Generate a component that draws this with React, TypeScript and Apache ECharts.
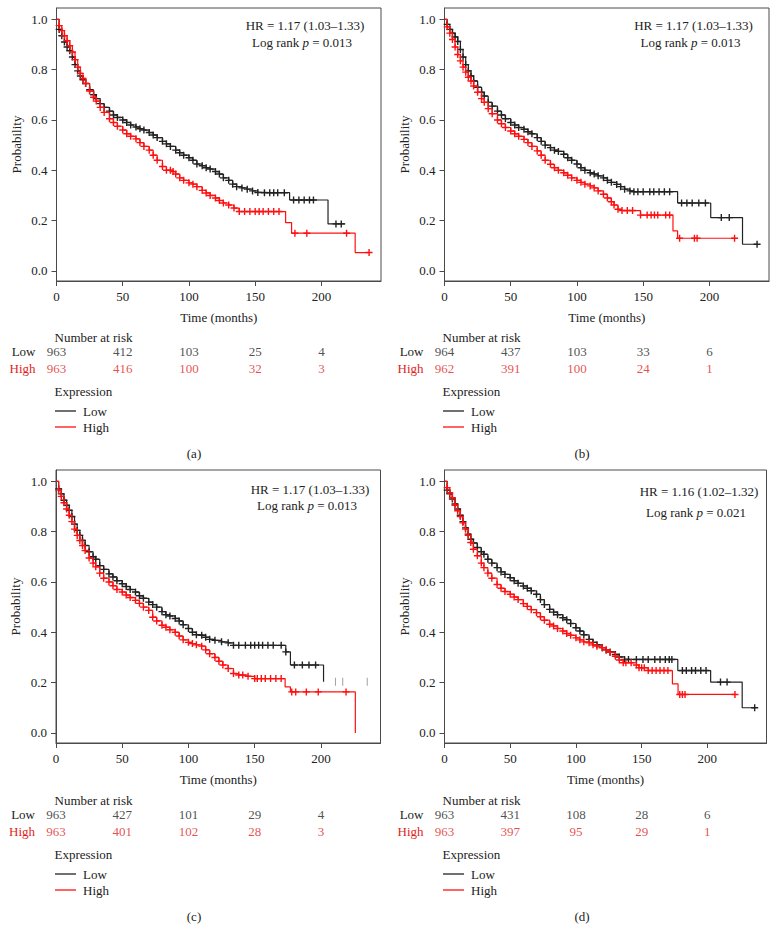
import React, { useEffect, useRef } from 'react';
import * as echarts from 'echarts';

type Pt = [number, number, number]; // [time (months), survival probability, censor mark 0/1]

const xTicks = [0, 50, 100, 150, 200];
const yTicks = [0, 0.2, 0.4, 0.6, 0.8, 1.0];
const riskTimes = [0, 50, 100, 150, 200];
const groups = ['Low', 'High'];
const panelLabels = ['(a)', '(b)', '(c)', '(d)'];
const hrTexts = ['HR = 1.17 (1.03–1.33)', 'HR = 1.17 (1.03–1.33)', 'HR = 1.17 (1.03–1.33)', 'HR = 1.16 (1.02–1.32)'];
const pValues = ['0.013', '0.013', '0.013', '0.021'];

const riskLowA = [963, 412, 103, 25, 4];
const riskHighA = [963, 416, 100, 32, 3];
const riskLowB = [964, 437, 103, 33, 6];
const riskHighB = [962, 391, 100, 24, 1];
const riskLowC = [963, 427, 101, 29, 4];
const riskHighC = [963, 401, 102, 28, 3];
const riskLowD = [963, 431, 108, 28, 6];
const riskHighD = [963, 397, 95, 29, 1];

const aLow: Pt[] = [[0,1,0],[2,0.96,1],[4,0.935,1],[6,0.91,1],[8,0.89,1],[10,0.875,1],[12,0.85,1],[14,0.82,1],[16,0.795,1],[18,0.775,1],[20,0.76,1],[22,0.745,1],[25,0.72,1],[28,0.70,1],[30,0.685,1],[33,0.665,1],[36,0.65,1],[40,0.635,1],[43,0.62,1],[46,0.61,1],[50,0.60,1],[53,0.59,1],[56,0.58,1],[60,0.572,1],[63,0.565,1],[66,0.56,1],[70,0.55,1],[73,0.54,1],[76,0.53,1],[80,0.515,1],[83,0.505,1],[86,0.495,1],[90,0.48,1],[93,0.47,1],[96,0.46,1],[100,0.45,1],[103,0.44,1],[106,0.425,1],[110,0.418,1],[113,0.41,1],[116,0.405,1],[120,0.395,1],[123,0.385,1],[126,0.37,1],[130,0.36,1],[133,0.345,1],[136,0.335,1],[140,0.33,1],[144,0.325,1],[148,0.318,1],[152,0.312,1],[157,0.311,1],[161,0.311,1],[164,0.311,1],[167,0.311,1],[172,0.311,1],[176,0.282,0],[179,0.282,1],[183,0.282,1],[187,0.282,1],[191,0.282,1],[194,0.282,1],[205,0.187,0],[211,0.187,1],[215,0.187,1],[218,0.187,0]];
const aHigh: Pt[] = [[0,1,0],[2,0.975,1],[4,0.955,1],[6,0.935,1],[8,0.915,1],[10,0.895,1],[12,0.87,1],[14,0.84,1],[16,0.81,1],[18,0.785,1],[20,0.765,1],[22,0.745,1],[25,0.715,1],[28,0.69,1],[30,0.675,1],[33,0.65,1],[36,0.63,1],[40,0.605,1],[43,0.59,1],[46,0.575,1],[50,0.56,1],[53,0.545,1],[56,0.535,1],[60,0.525,1],[63,0.51,1],[66,0.495,1],[70,0.48,1],[73,0.46,1],[76,0.44,1],[80,0.415,1],[83,0.40,1],[86,0.40,1],[88,0.395,1],[90,0.385,1],[93,0.37,1],[96,0.36,1],[100,0.35,1],[103,0.345,1],[106,0.335,1],[110,0.32,1],[113,0.31,1],[116,0.30,1],[120,0.29,1],[123,0.28,1],[126,0.27,1],[130,0.262,1],[134,0.25,1],[138,0.236,1],[142,0.236,1],[146,0.236,1],[150,0.236,1],[153,0.236,1],[156,0.236,1],[160,0.236,1],[164,0.236,1],[168,0.236,1],[173,0.192,0],[177.5,0.15,0],[180,0.15,1],[189,0.15,1],[219,0.15,1],[225.5,0.073,0],[236,0.073,1]];

const bLow: Pt[] = [[0,1,0],[2,0.98,1],[4,0.96,1],[6,0.945,1],[8,0.93,1],[10,0.912,1],[12,0.88,1],[14,0.85,1],[16,0.82,1],[18,0.795,1],[20,0.775,1],[22,0.755,1],[25,0.73,1],[28,0.71,1],[30,0.695,1],[33,0.67,1],[36,0.655,1],[40,0.635,1],[43,0.62,1],[46,0.605,1],[50,0.59,1],[53,0.58,1],[56,0.57,1],[60,0.563,1],[63,0.553,1],[66,0.545,1],[70,0.53,1],[73,0.515,1],[76,0.50,1],[80,0.49,1],[83,0.48,1],[86,0.475,1],[90,0.464,1],[93,0.45,1],[96,0.44,1],[100,0.425,1],[103,0.41,1],[106,0.40,1],[110,0.39,1],[113,0.385,1],[116,0.378,1],[120,0.37,1],[123,0.36,1],[126,0.352,1],[130,0.344,1],[133,0.335,1],[136,0.325,1],[140,0.318,1],[143,0.315,1],[146,0.315,1],[150,0.315,1],[155,0.315,1],[158,0.315,1],[162,0.315,1],[166,0.315,1],[170,0.315,1],[176,0.27,0],[179,0.27,1],[183,0.27,1],[187,0.27,1],[192,0.27,1],[197,0.27,1],[201,0.212,0],[209,0.212,1],[215,0.212,1],[225,0.106,0],[236,0.106,1]];
const bHigh: Pt[] = [[0,1,0],[2,0.97,1],[4,0.945,1],[6,0.92,1],[8,0.89,1],[10,0.86,1],[12,0.835,1],[14,0.81,1],[16,0.79,1],[18,0.77,1],[20,0.755,1],[22,0.735,1],[25,0.71,1],[28,0.685,1],[30,0.67,1],[33,0.645,1],[36,0.625,1],[40,0.60,1],[43,0.585,1],[46,0.57,1],[50,0.556,1],[53,0.545,1],[56,0.535,1],[60,0.523,1],[63,0.51,1],[66,0.495,1],[70,0.477,1],[73,0.46,1],[76,0.44,1],[80,0.424,1],[83,0.41,1],[86,0.40,1],[90,0.39,1],[93,0.38,1],[96,0.37,1],[100,0.36,1],[103,0.352,1],[106,0.345,1],[110,0.338,1],[113,0.33,1],[116,0.318,1],[120,0.305,1],[123,0.29,1],[126,0.275,1],[128,0.262,1],[131,0.245,1],[134,0.24,1],[138,0.24,1],[142,0.24,1],[148,0.222,1],[153,0.222,1],[156,0.222,1],[158.5,0.222,1],[161,0.222,1],[167,0.222,1],[170,0.222,1],[172.5,0.159,0],[176,0.13,0],[177.5,0.13,1],[188.7,0.13,1],[190.7,0.13,1],[219,0.13,1]];

const cLow: Pt[] = [[0,1,0],[2,0.97,1],[4,0.95,1],[6,0.925,1],[8,0.905,1],[10,0.885,1],[12,0.86,1],[14,0.83,1],[16,0.805,1],[18,0.785,1],[20,0.765,1],[22,0.745,1],[25,0.72,1],[28,0.70,1],[30,0.69,1],[33,0.665,1],[36,0.65,1],[40,0.632,1],[43,0.62,1],[46,0.605,1],[50,0.593,1],[53,0.582,1],[56,0.57,1],[60,0.56,1],[63,0.545,1],[66,0.535,1],[70,0.52,1],[73,0.51,1],[76,0.50,1],[80,0.482,1],[83,0.47,1],[86,0.465,1],[90,0.455,1],[93,0.445,1],[96,0.43,1],[100,0.415,1],[103,0.40,1],[106,0.39,1],[110,0.388,1],[113,0.38,1],[116,0.372,1],[120,0.368,1],[125,0.362,1],[130,0.358,1],[134,0.348,1],[138,0.348,1],[143,0.348,1],[147,0.348,1],[150,0.348,1],[153,0.348,1],[156,0.348,1],[160,0.348,1],[164,0.348,1],[170,0.348,1],[173.5,0.322,1],[177,0.27,0],[180,0.27,1],[186,0.27,1],[191,0.27,1],[196,0.27,1],[202,0.203,0]];
const cLowLate: [number, number][] = [[211,0.203],[216.5,0.203],[235,0.203]];
const cHigh: Pt[] = [[0,1,0],[2,0.965,1],[4,0.94,1],[6,0.915,1],[8,0.89,1],[10,0.865,1],[12,0.84,1],[14,0.81,1],[16,0.785,1],[18,0.765,1],[20,0.745,1],[22,0.725,1],[25,0.695,1],[28,0.675,1],[30,0.66,1],[33,0.635,1],[36,0.615,1],[40,0.60,1],[43,0.585,1],[46,0.57,1],[50,0.56,1],[53,0.548,1],[56,0.538,1],[60,0.527,1],[63,0.515,1],[66,0.50,1],[70,0.487,1],[73,0.46,1],[76,0.445,1],[80,0.428,1],[83,0.42,1],[86,0.41,1],[90,0.40,1],[93,0.385,1],[96,0.37,1],[100,0.36,1],[103,0.355,1],[106,0.35,1],[110,0.345,1],[113,0.33,1],[116,0.315,1],[120,0.30,1],[123,0.285,1],[126,0.27,1],[130,0.256,1],[134,0.236,1],[138,0.23,1],[141,0.23,1],[145,0.225,1],[150,0.216,1],[152,0.216,1],[155,0.216,1],[158,0.216,1],[162,0.216,1],[166,0.216,1],[170,0.216,1],[173,0.183,0],[177,0.163,0],[178,0.163,1],[181,0.163,1],[189,0.163,1],[198,0.163,1],[219,0.163,1],[226,0,0]];

const dLow: Pt[] = [[0,1,0],[2,0.965,1],[4,0.95,1],[6,0.93,1],[8,0.91,1],[10,0.89,1],[12,0.865,1],[14,0.84,1],[16,0.815,1],[18,0.79,1],[20,0.77,1],[22,0.755,1],[25,0.737,1],[28,0.72,1],[30,0.71,1],[33,0.69,1],[36,0.675,1],[40,0.657,1],[43,0.64,1],[46,0.63,1],[50,0.617,1],[53,0.605,1],[56,0.595,1],[60,0.584,1],[63,0.575,1],[66,0.565,1],[70,0.551,1],[73,0.53,1],[76,0.51,1],[80,0.491,1],[83,0.48,1],[86,0.47,1],[90,0.458,1],[93,0.45,1],[96,0.435,1],[100,0.418,1],[103,0.405,1],[106,0.39,1],[110,0.372,1],[113,0.36,1],[116,0.35,1],[120,0.339,1],[123,0.33,1],[126,0.322,1],[130,0.312,1],[133,0.302,1],[137,0.292,1],[140,0.292,1],[146,0.292,1],[151,0.292,1],[155,0.292,1],[160,0.292,1],[164,0.292,1],[168,0.292,1],[171,0.292,1],[173,0.292,1],[177.5,0.248,0],[181,0.248,1],[184,0.248,1],[188,0.248,1],[191,0.248,1],[195,0.248,1],[199,0.248,1],[202.5,0.202,0],[210,0.202,1],[215,0.202,1],[226.5,0.1,0],[236,0.1,1]];
const dHigh: Pt[] = [[0,1,0],[2,0.975,1],[4,0.955,1],[6,0.935,1],[8,0.905,1],[10,0.883,1],[12,0.86,1],[14,0.835,1],[16,0.81,1],[18,0.785,1],[20,0.757,1],[22,0.73,1],[25,0.704,1],[28,0.675,1],[30,0.657,1],[33,0.635,1],[36,0.615,1],[40,0.59,1],[43,0.575,1],[46,0.562,1],[50,0.551,1],[53,0.54,1],[56,0.53,1],[60,0.514,1],[63,0.503,1],[66,0.49,1],[70,0.478,1],[73,0.462,1],[76,0.448,1],[80,0.432,1],[83,0.425,1],[86,0.415,1],[90,0.405,1],[93,0.395,1],[96,0.388,1],[100,0.378,1],[103,0.37,1],[106,0.362,1],[110,0.358,1],[113,0.35,1],[116,0.345,1],[120,0.339,1],[123,0.33,1],[126,0.32,1],[130,0.305,1],[133,0.29,1],[136,0.279,1],[138,0.279,1],[142,0.279,1],[146,0.27,1],[148,0.259,1],[150,0.259,1],[152,0.259,1],[155,0.248,1],[158,0.248,1],[161,0.248,1],[164,0.248,1],[167,0.248,1],[170,0.248,1],[173.4,0.195,0],[177.7,0.153,0],[179,0.153,1],[181,0.153,1],[183,0.153,1],[221,0.153,1]];

const lowCurves = [aLow, bLow, cLow, dLow];
const highCurves = [aHigh, bHigh, cHigh, dHigh];
const lowRisk = [riskLowA, riskLowB, riskLowC, riskLowD];
const highRisk = [riskHighA, riskHighB, riskHighC, riskHighD];

const FONT = '"Liberation Serif", "DejaVu Serif", serif';
const DARK = '#222222';
const RED = '#ff1010';
const RED_TEXT = '#e01e24';
const AXIS = '#4a4a4a';
const PLUS = 'path://M2.8,0H4.2V2.8H7V4.2H4.2V7H2.8V4.2H0V2.8H2.8Z';
const VBAR = 'path://M0,0H1V8H0Z';

// layout (pixels)
const OX = [0, 388, 0, 388];
const OY = [0, 0, 462, 462];
const PLOT_LEFT = [56.5, 444.5, 56, 444.5];
const PLOT_W = [324.5, 324.5, 324.5, 322];
const PLOT_TOP = 8;
const PLOT_H = 273;
const HR_POS = [[305, 25, 42], [305.5, 25, 42], [310, 26, 42], [311, 28, 49]];

export default function App() {
  const ref = useRef<HTMLDivElement>(null);
  useEffect(() => {
    if (!ref.current) return;
    const chart = echarts.init(ref.current, null, { renderer: 'svg' });

    const grid: any[] = [];
    const xAxis: any[] = [];
    const yAxis: any[] = [];
    const series: any[] = [];
    const graphic: any[] = [];

    const txt = (color = DARK) => ({ color, fontFamily: FONT, fontSize: 13 });

    for (let i = 0; i < 4; i++) {
      grid.push({
        left: PLOT_LEFT[i], top: PLOT_TOP + OY[i], width: PLOT_W[i], height: PLOT_H,
        show: true, borderColor: AXIS, borderWidth: 1,
      });
      xAxis.push({
        gridIndex: i, type: 'value', min: 0, max: 245,
        axisLine: { show: true, onZero: false, lineStyle: { color: AXIS, width: 1 } },
        axisTick: { show: true, length: 5, customValues: xTicks, lineStyle: { color: AXIS } },
        axisLabel: { customValues: xTicks, margin: 9, ...txt() },
        splitLine: { show: false },
        name: 'Time (months)', nameLocation: 'middle', nameGap: 30,
        nameTextStyle: txt(),
      });
      yAxis.push({
        gridIndex: i, type: 'value', min: -0.04, max: 1.045,
        axisLine: { show: true, onZero: false, lineStyle: { color: AXIS, width: 1 } },
        axisTick: { show: true, length: 5, customValues: yTicks, lineStyle: { color: AXIS } },
        axisLabel: { customValues: yTicks, margin: 9, formatter: (v: number) => v.toFixed(1), ...txt() },
        splitLine: { show: false },
        name: 'Probability', nameLocation: 'middle', nameGap: 34,
        nameTextStyle: txt(),
      });
    }
    // risk table grids
    for (let i = 0; i < 4; i++) {
      grid.push({ left: PLOT_LEFT[i], top: 342.5 + OY[i] + (i >= 2 ? 1 : 0), width: PLOT_W[i], height: 34, show: false });
      xAxis.push({ gridIndex: 4 + i, type: 'value', min: 0, max: 245, show: false });
      yAxis.push({
        gridIndex: 4 + i, type: 'category', data: groups, inverse: true,
        axisLine: { show: false }, axisTick: { show: false }, splitLine: { show: false },
        axisLabel: {
          margin: 21, fontFamily: FONT, fontSize: 13,
          color: (v: string) => (v === 'High' ? RED_TEXT : DARK),
        },
      });
    }

    const toItems = (arr: Pt[]) =>
      arr.map(([t, s, c]) => ({ value: [t, s], symbol: c ? PLUS : 'none', symbolSize: 7 }));

    for (let i = 0; i < 4; i++) {
      series.push({
        name: 'Low', type: 'line', xAxisIndex: i, yAxisIndex: i, step: 'end',
        data: toItems(lowCurves[i]), showSymbol: true, showAllSymbol: true,
        lineStyle: { color: DARK, width: 1.2 }, itemStyle: { color: DARK }, silent: true, z: 2,
      });
      series.push({
        name: 'High', type: 'line', xAxisIndex: i, yAxisIndex: i, step: 'end',
        data: toItems(highCurves[i]), showSymbol: true, showAllSymbol: true,
        lineStyle: { color: RED, width: 1.2 }, itemStyle: { color: RED }, silent: true, z: 3,
      });
      if (i === 2) {
        series.push({
          name: 'LowLate', type: 'scatter', xAxisIndex: i, yAxisIndex: i,
          data: cLowLate, symbol: VBAR, symbolSize: [1, 8], itemStyle: { color: '#888' }, silent: true,
        });
      }
      const riskRows = [
        { name: 'Low', values: lowRisk[i], color: DARK },
        { name: 'High', values: highRisk[i], color: RED_TEXT },
      ];
      riskRows.forEach((row) => {
        series.push({
          type: 'scatter', xAxisIndex: 4 + i, yAxisIndex: 4 + i, silent: true,
          symbolSize: 0.1, itemStyle: { color: 'transparent' },
          data: riskTimes.map((t, j) => [t, row.name, row.values[j]]),
          label: {
            show: true, position: 'inside', formatter: (p: any) => String(p.value[2]),
            color: row.color, fontFamily: FONT, fontSize: 13,
          },
        });
      });

      // annotations
      const ox = OX[i];
      const oy = OY[i] + (i >= 2 ? 1 : 0);
      const [hx, hy, ly] = HR_POS[i];
      graphic.push({
        type: 'text', x: ox + hx, y: oy + hy,
        style: { text: hrTexts[i], fill: DARK, font: `13px ${FONT}`, align: 'center', verticalAlign: 'middle' },
      });
      graphic.push({
        type: 'text', x: ox + hx - 3, y: oy + ly,
        style: {
          text: `{a|Log rank }{i|p}{a| = ${pValues[i]}}`, align: 'center', verticalAlign: 'middle',
          rich: {
            a: { fill: DARK, fontFamily: FONT, fontSize: 13 },
            i: { fill: DARK, fontFamily: FONT, fontSize: 13, fontStyle: 'italic' },
          },
        },
      });
      graphic.push({
        type: 'text', x: ox + 54.5, y: oy + 337,
        style: { text: 'Number at risk', fill: DARK, font: `13px ${FONT}`, verticalAlign: 'middle' },
      });
      graphic.push({
        type: 'text', x: ox + 54.5, y: oy + 391,
        style: { text: 'Expression', fill: DARK, font: `13px ${FONT}`, verticalAlign: 'middle' },
      });
      [['Low', DARK, 411], ['High', RED, 427]].forEach(([label, color, y]) => {
        graphic.push({
          type: 'line', shape: { x1: ox + 55, y1: oy + (y as number), x2: ox + 76, y2: oy + (y as number) },
          style: { stroke: color, lineWidth: 1.3 },
        });
        graphic.push({
          type: 'text', x: ox + 83, y: oy + (y as number),
          style: { text: label, fill: DARK, font: `13px ${FONT}`, verticalAlign: 'middle' },
        });
      });
      graphic.push({
        type: 'text', x: ox + 194, y: oy + 453,
        style: { text: panelLabels[i], fill: DARK, font: `13px ${FONT}`, align: 'center', verticalAlign: 'middle' },
      });
    }

    chart.setOption({
      animation: false,
      backgroundColor: '#ffffff',
      textStyle: { fontFamily: FONT },
      grid, xAxis, yAxis, series, graphic,
    });
    return () => chart.dispose();
  }, []);

  return (
    <div
      ref={ref}
      style={{ position: 'fixed', left: 0, top: 0, width: 777, height: 942, background: '#fff' }}
    />
  );
}
